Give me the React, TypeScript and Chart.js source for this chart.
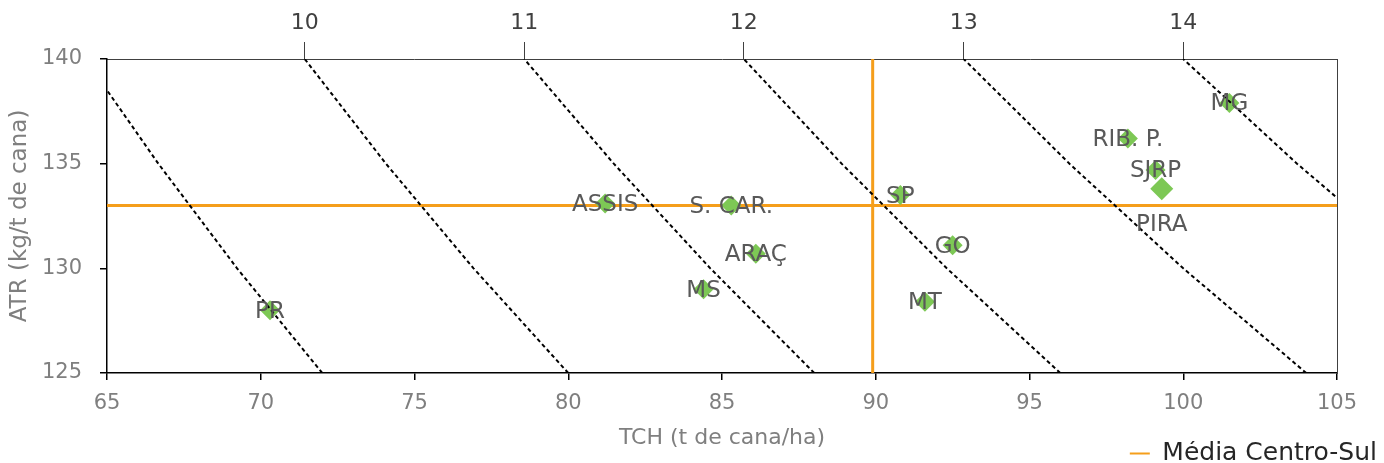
import React, { useEffect, useRef } from "react";
import { Chart, registerables } from "chart.js";

Chart.register(...registerables);

// ---- data ----
const REGIONS = ["PR", "ASSIS", "S. CAR.", "ARAÇ", "MS", "SP", "GO", "MT", "RIB. P.", "SJRP", "PIRA", "MG"];
const TCH = [70.3, 81.2, 85.3, 86.1, 84.4, 90.8, 92.5, 91.6, 98.2, 99.1, 99.3, 101.5];
const ATR = [128.0, 133.1, 133.0, 130.7, 129.0, 133.5, 131.1, 128.4, 136.2, 134.7, 133.8, 137.9];

const MEAN_TCH = 89.9;
const MEAN_ATR = 133.0;
const MEAN_LABEL = "Média Centro-Sul";

// iso-productivity lines (t ATR/ha): TCH values at these ATR levels
const ISO_ATR = [125, 130, 135, 140];
const ISO_9 = [72.0, 69.23, 66.67, 64.29];
const ISO_10 = [80.0, 76.92, 74.07, 71.43];
const ISO_11 = [88.0, 84.62, 81.48, 78.57];
const ISO_12 = [96.0, 92.31, 88.89, 85.71];
const ISO_13 = [104.0, 100.0, 96.3, 92.86];
const ISO_14 = [112.0, 107.69, 103.7, 100.0];
const ISO_LINES = [ISO_9, ISO_10, ISO_11, ISO_12, ISO_13, ISO_14];

const TOP_TICK_TCH = [71.43, 78.57, 85.71, 92.86, 100.0];
const TOP_TICK_LABELS = ["10", "11", "12", "13", "14"];

const X_MIN = 65;
const X_MAX = 105;
const Y_MIN = 125;
const Y_MAX = 140;

// ---- style ----
const FONT = '"DejaVu Sans", sans-serif';
const GREEN = "#7DC855";
const ORANGE = "#F59E1B";
const TICK_GRAY = "#7f7f7f";
const LABEL_GRAY = "#595959";
const LABEL_DY: Record<string, number> = { PIRA: 35 };

const pointLabels = {
  id: "pointLabels",
  afterDatasetsDraw(chart: any) {
    const idx = chart.data.datasets.findIndex((d: any) => d.id === "points");
    const meta = chart.getDatasetMeta(idx);
    const ctx = chart.ctx;
    ctx.save();
    ctx.font = `23px ${FONT}`;
    ctx.fillStyle = LABEL_GRAY;
    ctx.textAlign = "center";
    ctx.textBaseline = "middle";
    meta.data.forEach((el: any, i: number) => {
      const name = REGIONS[i];
      const dy = (LABEL_DY[name] || 0) + 1.5;
      ctx.fillText(name, el.x, el.y + dy);
    });
    ctx.restore();
  },
};

export default function App() {
  const ref = useRef<HTMLCanvasElement | null>(null);

  useEffect(() => {
    if (!ref.current) return;
    Chart.defaults.font.family = FONT;

    const isoDatasets = ISO_LINES.map((line, k) => ({
      id: `iso${k}`,
      label: `iso${k}`,
      data: line.map((x, i) => ({ x, y: ISO_ATR[i] })),
      showLine: true,
      borderColor: "#000",
      borderWidth: 2,
      borderDash: [4, 3],
      pointRadius: 0,
      fill: false,
    }));

    const chart = new Chart(ref.current, {
      type: "scatter",
      data: {
        datasets: [
          ...isoDatasets,
          {
            id: "points",
            label: "regions",
            data: TCH.map((x, i) => ({ x, y: ATR[i] })),
            pointStyle: "rectRot",
            pointRadius: (c: any) => (REGIONS[c.dataIndex] === "PIRA" ? 11.5 : 10),
            backgroundColor: GREEN,
            borderColor: GREEN,
            borderWidth: 0,
          },
          {
            id: "meanH",
            label: MEAN_LABEL,
            data: [
              { x: X_MIN, y: MEAN_ATR },
              { x: X_MAX, y: MEAN_ATR },
            ],
            showLine: true,
            borderColor: ORANGE,
            backgroundColor: ORANGE,
            borderWidth: 3,
            pointRadius: 0,
          },
          {
            id: "meanV",
            label: "meanV",
            data: [
              { x: MEAN_TCH, y: Y_MIN },
              { x: MEAN_TCH, y: Y_MAX },
            ],
            showLine: true,
            borderColor: ORANGE,
            backgroundColor: ORANGE,
            borderWidth: 3,
            pointRadius: 0,
          },
        ] as any,
      },
      options: {
        animation: false,
        responsive: true,
        maintainAspectRatio: false,
        events: [],
        layout: { padding: 0 },
        plugins: {
          tooltip: { enabled: false },
          legend: {
            display: true,
            position: "bottom",
            align: "end",
            labels: {
              padding: 0,
              boxWidth: 20,
              boxHeight: 2,
              color: "#262626",
              font: { size: 25, family: FONT },
              generateLabels: () => [
                {
                  text: MEAN_LABEL,
                  fillStyle: ORANGE,
                  strokeStyle: ORANGE,
                  lineWidth: 0,
                  hidden: false,
                  datasetIndex: 7,
                  fontColor: "#262626",
                } as any,
              ],
            },
          },
        },
        scales: {
          x: {
            type: "linear",
            position: "bottom",
            min: X_MIN,
            max: X_MAX,
            ticks: { stepSize: 5, color: TICK_GRAY, font: { size: 21 }, padding: 11 },
            grid: { display: true, drawOnChartArea: false, drawTicks: true, tickLength: 7, color: "#000", lineWidth: 1.5 },
            border: { display: true, color: "#000", width: 1.5 },
            title: {
              display: true,
              text: "TCH (t de cana/ha)",
              color: TICK_GRAY,
              font: { size: 22 },
              padding: { top: 0, bottom: -10 },
            },
            afterFit: (s: any) => {
              s.height = 68;
            },
          },
          x2: {
            type: "linear",
            position: "top",
            min: X_MIN,
            max: X_MAX,
            afterBuildTicks: (axis: any) => {
              axis.ticks = TOP_TICK_TCH.map((v) => ({ value: v }));
            },
            ticks: {
              autoSkip: false,
              color: "#404040",
              font: { size: 22 },
              padding: 6,
              callback: (_v: any, i: number) => TOP_TICK_LABELS[i],
            },
            grid: { display: true, drawOnChartArea: false, drawTicks: true, tickLength: 17, color: "#404040", lineWidth: 1 },
            border: { display: true, color: "#404040", width: 1 },
            afterFit: (s: any) => {
              s.height = 59;
            },
          },
          y: {
            type: "linear",
            position: "left",
            min: Y_MIN,
            max: Y_MAX,
            ticks: { stepSize: 5, color: TICK_GRAY, font: { size: 21 }, padding: 18 },
            grid: { display: true, drawOnChartArea: false, drawTicks: true, tickLength: 7, color: "#000", lineWidth: 1.5 },
            border: { display: true, color: "#000", width: 1.5 },
            title: {
              display: true,
              text: "ATR (kg/t de cana)",
              color: TICK_GRAY,
              font: { size: 23 },
              padding: { top: 6, bottom: 0 },
            },
            afterFit: (s: any) => {
              s.width = 107;
            },
          },
          y2: {
            type: "linear",
            position: "right",
            min: Y_MIN,
            max: Y_MAX,
            ticks: { display: false },
            grid: { display: false },
            border: { display: true, color: "#404040", width: 1 },
            afterFit: (s: any) => {
              s.width = 40;
            },
          },
        },
      } as any,
      plugins: [pointLabels],
    });

    return () => chart.destroy();
  }, []);

  return (
    <div
      style={{
        position: "fixed",
        left: 0,
        top: 0,
        width: 1384,
        height: 463,
        overflow: "hidden",
        background: "#fff",
      }}
    >
      <div style={{ position: "relative", width: 1377, height: 476 }}>
        <canvas ref={ref} />
      </div>
    </div>
  );
}
